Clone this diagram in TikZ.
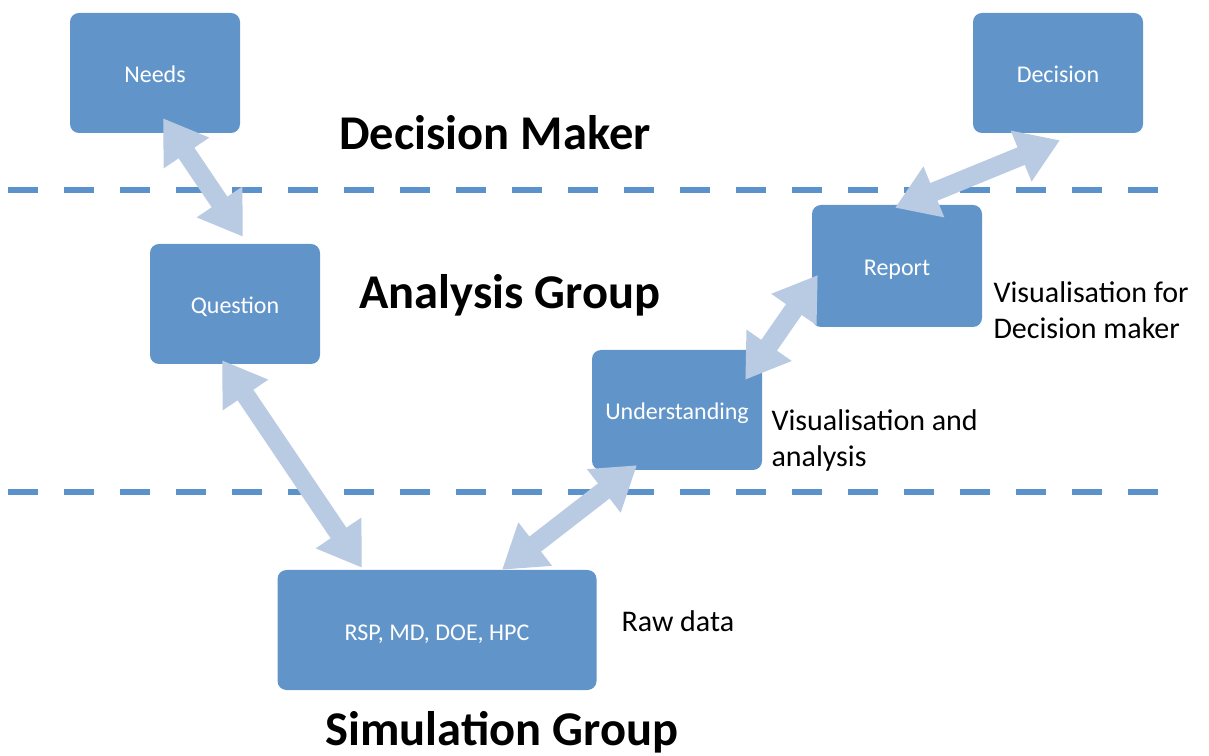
\documentclass[tikz,border=0pt]{standalone}
\usepackage{fontspec}
\setmainfont{Carlito}
\usetikzlibrary{arrows.meta,calc}

\definecolor{boxblue}{HTML}{6195CA}
\definecolor{lineblue}{HTML}{5B92CB}
\definecolor{arrowblue}{HTML}{B9CBE3}

\tikzset{
  stage/.style={fill=boxblue, rounded corners=9pt, minimum width=170pt, minimum height=120pt,
    text=white, text height=24pt, text depth=4pt, font=\fontsize{24}{28}\selectfont},
  link/.style={draw=arrowblue, line width=19pt,
    {Triangle[width=52pt,length=42pt]}-{Triangle[width=52pt,length=42pt]}},
  lane/.style={draw=lineblue, line width=5.5pt, dash pattern=on 30pt off 26pt},
  group/.style={font=\fontsize{48.5}{52}\selectfont\bfseries},
  note/.style={font=\fontsize{30}{36}\selectfont, align=left, anchor=west}
}

\begin{document}
\begin{tikzpicture}[x=1pt, y=1pt]

\useasboundingbox (0,0) rectangle (1209,755);

\draw [lane] (8,565) -- (1158,565);
\draw [lane] (8,263) -- (1158,263);

\node [stage] (needs) at (155,682) {Needs};
\node [stage] (decision) at (1058,682) {Decision};
\node [stage] (question) at (235,451) {Question};
\node [stage, minimum height=122pt] (report) at (897,489) {Report};
\node [stage] (underst) at (677,345) {Understanding};
\node [stage, minimum width=319pt] (rsp) at (437,125) {RSP, MD, DOE, HPC};

\draw [link] ($(needs.south)+(8,15)$) -- ($(question.north)+(8,7)$);
\draw [link] ($(question.south)+(-13,4)$) -- ($(rsp.north)+(-75,2)$);
\draw [link] ($(rsp.north)+(65,0)$) -- ($(underst.south)+(-40,5)$);
\draw [link] ($(underst.north east)+(-17,-30)$) -- ($(report.west)+(6,-9)$);
\draw [link] ($(report.north)+(-2,-3)$) -- ($(decision.south)+(2,-7)$);

\node [group] (maker) at (495,622) {Decision Maker};
\node [group] (analysis) at (510,460) {Analysis Group};
\node [group] (simulation) at (502,23) {Simulation Group};

\node [note] (vis1) at (990,445) {Visualisation for\\Decision maker};
\node [note] (vis2) at (768,314) {Visualisation and\\analysis};
\node [note] (raw) at (618,134) {Raw data};

\end{tikzpicture}
\end{document}
